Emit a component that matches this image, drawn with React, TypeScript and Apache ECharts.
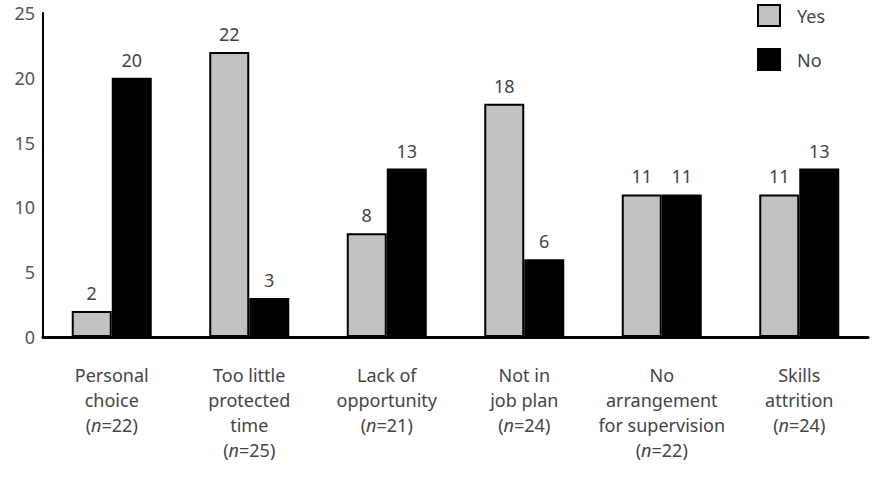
import React, { useEffect, useRef } from "react";
import * as echarts from "echarts";

const categories = [
  "Personal\nchoice\n({i|n}=22)",
  "Too little\nprotected\ntime\n({i|n}=25)",
  "Lack of\nopportunity\n({i|n}=21)",
  "Not in\njob plan\n({i|n}=24)",
  "No\narrangement\nfor supervision\n({i|n}=22)",
  "Skills\nattrition\n({i|n}=24)",
];
const yesValues = [2, 22, 8, 18, 11, 11];
const noValues = [20, 3, 13, 6, 11, 13];
const yTicks = [0, 5, 10, 15, 20, 25];

const FONT = "'Noto Sans', Lato, sans-serif";
const TEXT = "#444";

export default function App() {
  const ref = useRef<HTMLDivElement>(null);
  useEffect(() => {
    if (!ref.current) return;
    const chart = echarts.init(ref.current, undefined, { renderer: "svg" });
    chart.setOption({
      animation: false,
      backgroundColor: "#fff",
      textStyle: { fontFamily: FONT },
      legend: {
        orient: "vertical",
        left: 757,
        top: 4,
        padding: 0,
        itemWidth: 22,
        itemHeight: 21,
        itemGap: 21,
        icon: "rect",
        textStyle: { fontSize: 18, color: TEXT, fontFamily: FONT, padding: [0, 0, 0, 12] },
        data: ["Yes", "No"],
      },
      grid: { left: 43, right: 11, top: 13, bottom: 142, containLabel: false },
      xAxis: {
        type: "category",
        data: categories,
        axisLine: { lineStyle: { color: "#000", width: 3 } },
        axisTick: { show: false },
        axisLabel: {
          interval: 0,
          fontSize: 18,
          lineHeight: 25,
          color: TEXT,
          fontFamily: FONT,
          margin: 25,
          rich: {
            i: { fontStyle: "italic", fontSize: 18, color: TEXT, fontFamily: FONT, lineHeight: 25 },
          },
        },
      },
      yAxis: {
        type: "value",
        min: yTicks[0],
        max: yTicks[yTicks.length - 1],
        interval: 5,
        splitLine: { show: false },
        axisLine: { show: true, lineStyle: { color: "#000", width: 2 } },
        axisTick: { show: false },
        axisLabel: { fontSize: 18, color: "#555", fontFamily: FONT, margin: 8 },
      },
      series: [
        {
          name: "Yes",
          type: "bar",
          data: yesValues,
          barWidth: 40,
          barGap: "0%",
          itemStyle: { color: "#c2c2c2", borderColor: "#000", borderWidth: 2 },
          label: { show: true, position: "top", distance: 9, fontSize: 18, color: TEXT, fontFamily: FONT },
        },
        {
          name: "No",
          type: "bar",
          data: noValues,
          barWidth: 40,
          barGap: "0%",
          itemStyle: { color: "#000", borderColor: "#000", borderWidth: 2 },
          label: { show: true, position: "top", distance: 9, fontSize: 18, color: TEXT, fontFamily: FONT },
        },
      ],
    });
    return () => chart.dispose();
  }, []);
  return (
    <div
      ref={ref}
      style={{ position: "absolute", left: 0, top: 0, width: 879, height: 479 }}
    />
  );
}
